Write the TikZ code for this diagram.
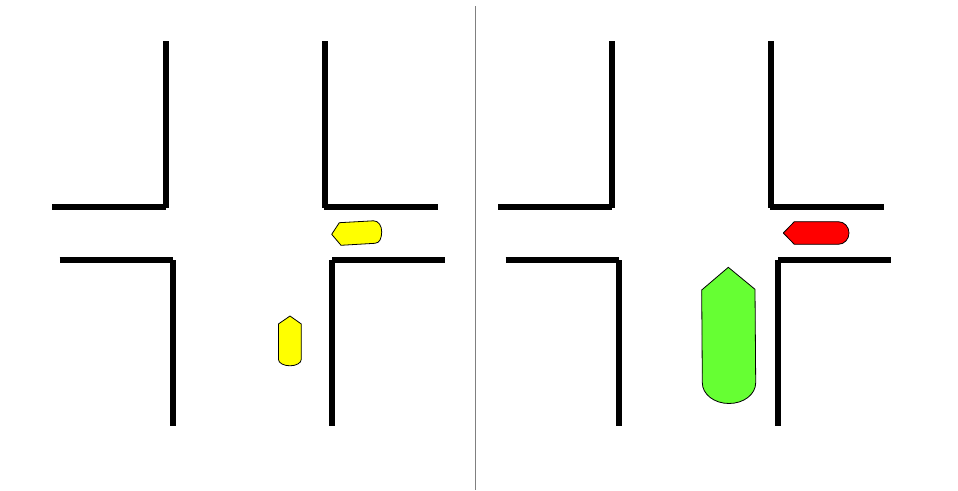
\documentclass[tikz,border=0pt]{standalone}
\definecolor{cargreen}{HTML}{66FF33}
\definecolor{caryellow}{HTML}{FFFF00}
\definecolor{carred}{HTML}{FF0000}
\definecolor{rulegray}{HTML}{808080}
\tikzset{
  wall/.style={line width=6pt,line cap=butt,black},
  vehicle/.style={draw=black,line width=0.8pt,line join=round},
  divider/.style={draw=rulegray,line width=1.3pt}
}
\newcommand{\crossing}{%
  \draw[wall] (52,207) -- (166,207);
  \draw[wall] (165.5,41) -- (165.5,207.5);
  \draw[wall] (59.5,259.7) -- (173,259.7);
  \draw[wall] (172.7,260) -- (172.7,426);
  \draw[wall] (324.5,41) -- (324.5,207.5);
  \draw[wall] (324,207) -- (437.7,207);
  \draw[wall] (331.8,260) -- (331.8,426);
  \draw[wall] (332,260) -- (445,260);
}
\begin{document}
\begin{tikzpicture}[x=1pt,y=-1pt]
\useasboundingbox (0,0) rectangle (958,490);
\fill[white] (0,0) rectangle (958,490);
\crossing
\begin{scope}[xshift=446pt]
\crossing
\end{scope}
\draw[divider] (475.5,6) -- (475.5,490);
% yellow cars
\filldraw[vehicle,fill=caryellow] (331.7,234.3) -- (339.3,222.7) -- (373.3,220.8)
  .. controls (378.5,220.6) and (381.9,226) .. (381.7,232)
  .. controls (381.5,238) and (380,243) .. (375,243.3)
  -- (341,245.3) -- cycle;
\filldraw[vehicle,fill=caryellow] (290,316) -- (301.3,324) -- (301.3,359.3)
  .. controls (301.3,363) and (296.2,365.8) .. (290,365.8)
  .. controls (283.8,365.8) and (278.4,363) .. (278.4,359.3)
  -- (278.4,324) -- cycle;
% green vehicle
\filldraw[vehicle,fill=cargreen] (728.3,267.3) -- (755,289.3) -- (755.7,382.7)
  .. controls (755.7,394.3) and (743.8,403.5) .. (729,403.5)
  .. controls (714.2,403.5) and (702.3,394.3) .. (702.3,382.7)
  -- (701.7,290) -- cycle;
% red car
\filldraw[vehicle,fill=carred] (783.3,233) -- (794.3,221.7) -- (838.3,221.7)
  .. controls (844.3,221.7) and (849,226.8) .. (849,233)
  .. controls (849,239.2) and (844.3,244.3) .. (838.3,244.3)
  -- (794.3,244.3) -- cycle;
\end{tikzpicture}
\end{document}
